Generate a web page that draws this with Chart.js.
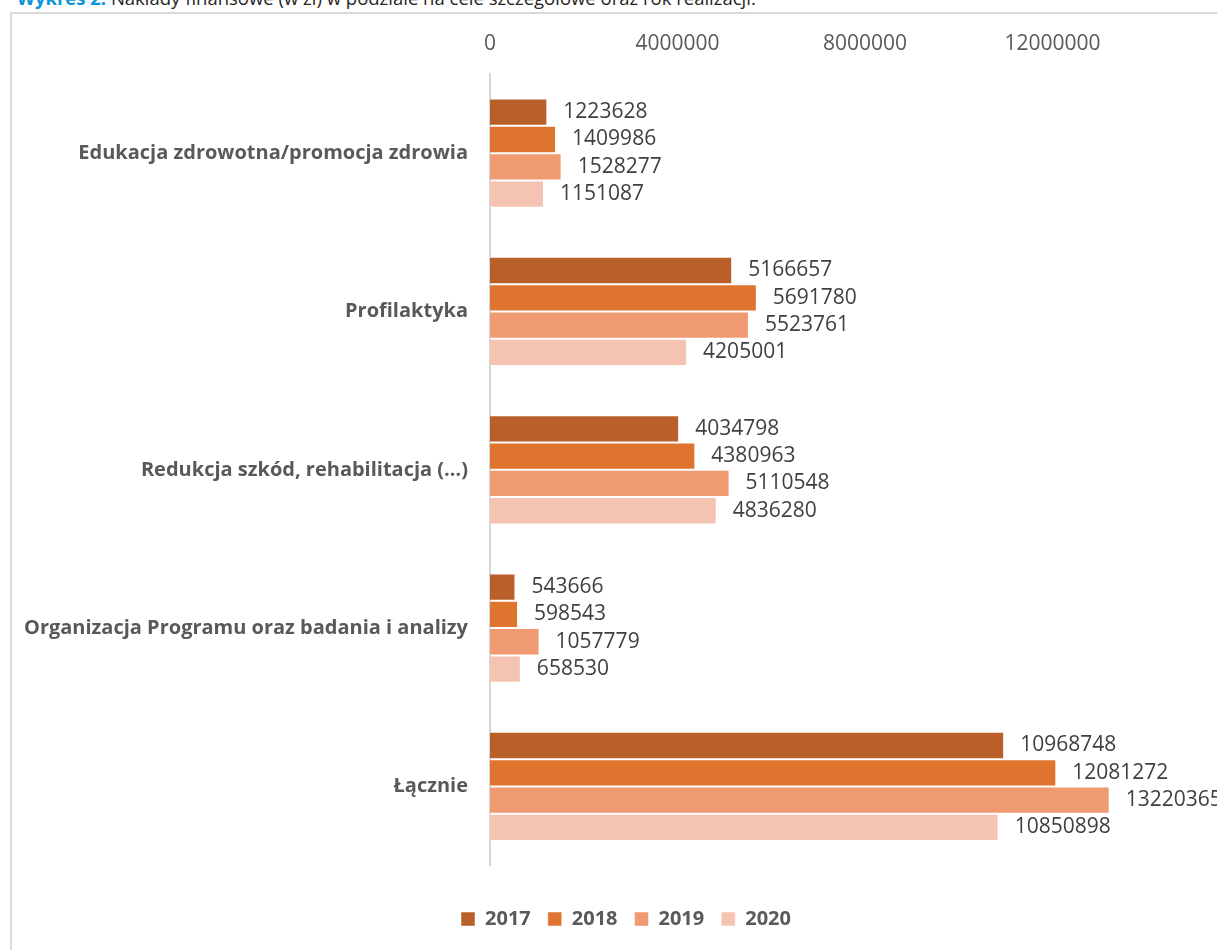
<!DOCTYPE html>
<html lang="pl">
<head>
<meta charset="utf-8">
<title>Nakłady finansowe</title>
<script src="https://cdn.jsdelivr.net/npm/chart.js@4.4.1/dist/chart.umd.min.js"></script>
<style>
    html, body { margin: 0; padding: 0; background: #fff; overflow: hidden; }
    body { width: 1217px; height: 950px; position: relative; font-family: "Open Sans", sans-serif; }
    .caption {
        position: absolute; left: 17px; top: -12px;
        font-size: 18.5px; line-height: 19px; color: #262626; white-space: nowrap;
    }
    .caption b { color: #0a96d8; font-weight: 700; }
    #frame {
        position: absolute; left: 10px; top: 12px;
        width: 1228px; height: 940px;
        border: 2px solid #d9d9d9;
    }
</style>
</head>
<body>
<div class="caption"><b>Wykres 2.</b> Nakłady finansowe (w zł) w podziale na cele szczegółowe oraz rok realizacji.</div>
<div id="frame"><canvas id="spending-chart"></canvas></div>

<script>
    // Kategorie celów szczegółowych
    const categories = [
        'Edukacja zdrowotna/promocja zdrowia',
        'Profilaktyka',
        'Redukcja szkód, rehabilitacja (…)',
        'Organizacja Programu oraz badania i analizy',
        'Łącznie'
    ];

    const years = ['2017', '2018', '2019', '2020'];

    // Nakłady w zł, kolejno dla kategorii
    const values2017 = [1223628, 5166657, 4034798, 543666, 10968748];
    const values2018 = [1409986, 5691780, 4380963, 598543, 12081272];
    const values2019 = [1528277, 5523761, 5110548, 1057779, 13220365];
    const values2020 = [1151087, 4205001, 4836280, 658530, 10850898];

    const axisTicks = [0, 4000000, 8000000, 12000000];

    const colors = ['#b9602a', '#de742d', '#f09a71', '#f5c3b2'];

    // Wartości przy końcach słupków
    const barValueLabels = {
        id: 'barValueLabels',
        afterDatasetsDraw(chart) {
            const ctx = chart.ctx;
            ctx.save();
            ctx.font = '21px "Open Sans"';
            ctx.fillStyle = '#404040';
            ctx.textAlign = 'left';
            ctx.textBaseline = 'middle';
            chart.data.datasets.forEach((ds, i) => {
                chart.getDatasetMeta(i).data.forEach((bar, j) => {
                    ctx.fillText(String(ds.data[j]), bar.x + 16, bar.y);
                });
            });
            ctx.restore();
        }
    };

    Chart.defaults.font.family = '"Open Sans", sans-serif';

    const series = [values2017, values2018, values2019, values2020];

    new Chart(document.getElementById('spending-chart'), {
        type: 'bar',
        data: {
            labels: categories,
            datasets: series.map((data, i) => ({
                label: years[i],
                data,
                backgroundColor: colors[i],
                borderColor: 'rgba(255,255,255,0.5)',
                borderWidth: 1,
                barPercentage: 1,
                categoryPercentage: 0.69
            }))
        },
        options: {
            indexAxis: 'y',
            responsive: true,
            maintainAspectRatio: false,
            animation: false,
            layout: {
                padding: { top: 0, right: 0, bottom: 15, left: 0 }
            },
            scales: {
                x: {
                    position: 'top',
                    min: 0,
                    max: 16000000,
                    grid: { display: false, drawTicks: false },
                    border: { display: false },
                    ticks: {
                        padding: 17,
                        color: '#595959',
                        font: { size: 21 },
                        callback: value => String(value)
                    },
                    afterBuildTicks(scale) {
                        scale.ticks = axisTicks.map(value => ({ value }));
                    },
                    afterFit(scale) {
                        scale.height = 60;
                    }
                },
                y: {
                    grid: { display: false, drawTicks: false },
                    border: { display: true, color: '#d6d6d6', width: 2 },
                    ticks: {
                        padding: 22,
                        color: '#595959',
                        font: { size: 20, weight: 'bold' }
                    },
                    afterFit(scale) {
                        scale.width = 478;
                    }
                }
            },
            plugins: {
                legend: {
                    position: 'bottom',
                    title: { display: true, text: '', font: { size: 2 }, padding: 12 },
                    labels: {
                        boxWidth: 14,
                        boxHeight: 14,
                        padding: 17,
                        color: '#595959',
                        font: { size: 20, weight: 'bold' }
                    }
                },
                tooltip: { enabled: false }
            }
        },
        plugins: [barValueLabels]
    });
</script>
</body>
</html>
